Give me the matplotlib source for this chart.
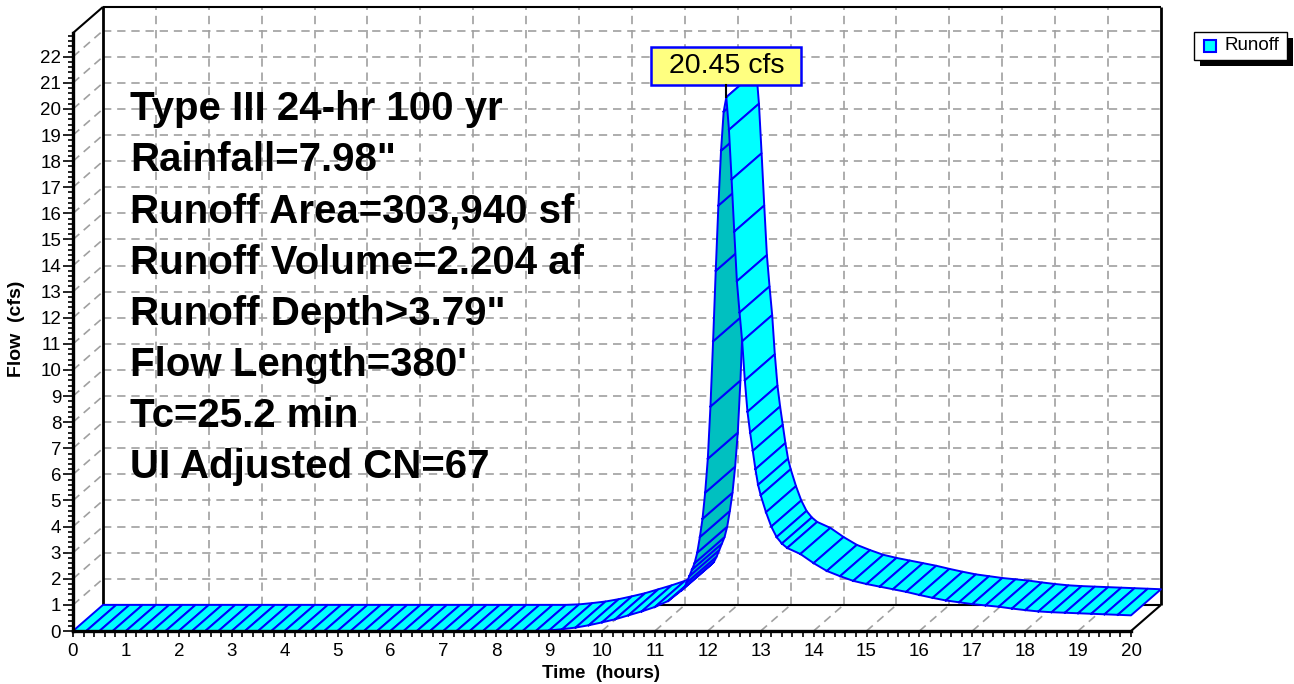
import numpy as np
import matplotlib
matplotlib.use('Agg')
import matplotlib.pyplot as plt
from matplotlib.patches import Polygon, Rectangle
from matplotlib.transforms import IdentityTransform

plt.rcParams['font.family'] = ['Liberation Sans', 'DejaVu Sans']

# Hydrograph (time in hours, flow in cfs)
time_hr = [0.0, 0.25, 0.5, 0.75, 1.0, 1.25, 1.5, 1.75, 2.0, 2.25, 2.5, 2.75,
           3.0, 3.25, 3.5, 3.75, 4.0, 4.25, 4.5, 4.75, 5.0, 5.25, 5.5, 5.75,
           6.0, 6.25, 6.5, 6.75, 7.0, 7.25, 7.5, 7.75, 8.0, 8.25, 8.5, 8.75,
           9.0, 9.25, 9.5, 9.75, 10.0, 10.25, 10.5, 10.75, 11.0, 11.25, 11.5,
           11.55, 11.6, 11.65, 11.7, 11.75, 11.8, 11.85, 11.9, 11.95, 12.0,
           12.05, 12.1, 12.15, 12.2, 12.25, 12.3, 12.35, 12.4, 12.45, 12.5,
           12.55, 12.6, 12.65, 12.7, 12.75, 12.8, 12.85, 12.9, 12.95, 13.0,
           13.1, 13.2, 13.3, 13.4, 13.5, 13.75, 14.0, 14.25, 14.5, 14.75,
           15.0, 15.25, 15.5, 15.75, 16.0, 16.25, 16.5, 16.75, 17.0, 17.25,
           17.5, 17.75, 18.0, 18.25, 18.5, 18.75, 19.0, 19.25, 19.5, 19.75, 20.0]
flow_cfs = [0.0, 0.0, 0.0, 0.0, 0.0, 0.0, 0.0, 0.0, 0.0, 0.0, 0.0, 0.0,
            0.0, 0.0, 0.0, 0.0, 0.0, 0.0, 0.0, 0.0, 0.0, 0.0, 0.0, 0.0,
            0.0, 0.0, 0.0, 0.0, 0.0, 0.0, 0.0, 0.0, 0.0, 0.0, 0.0, 0.0,
            0.02, 0.07, 0.13, 0.22, 0.33, 0.45, 0.6, 0.75, 0.92, 1.15, 1.55,
            1.65, 1.85, 2.1, 2.35, 2.6, 3.0, 3.6, 4.3, 5.3, 6.6,
            8.6, 11.1, 13.8, 16.3, 18.4, 19.9, 20.45, 19.2, 17.3, 15.3,
            13.4, 12.2, 11.1, 9.6, 8.4, 7.6, 6.9, 6.2, 5.6, 5.2,
            4.55, 4.0, 3.6, 3.35, 3.18, 2.95, 2.6, 2.3, 2.1, 1.92,
            1.8, 1.7, 1.6, 1.5, 1.38, 1.27, 1.17, 1.1, 1.03, 0.98,
            0.93, 0.86, 0.8, 0.75, 0.72, 0.7, 0.68, 0.66, 0.64, 0.62, 0.6]

info_lines = ['Type III 24-hr 100 yr', 'Rainfall=7.98"', 'Runoff Area=303,940 sf',
              'Runoff Volume=2.204 af', 'Runoff Depth>3.79"', "Flow Length=380'",
              'Tc=25.2 min', 'UI Adjusted CN=67']
peak_label = '20.45 cfs'

# depth offset of the pseudo-3D box (in data units)
DX = 0.567
DZ = 1.0
YTOP = 22.91

fig = plt.figure(figsize=(12.94, 6.84), dpi=100)
ax = fig.add_axes([73 / 1294, 53 / 684, 1058 / 1294, 598 / 684])
ax.set_xlim(0, 20)
ax.set_ylim(0, YTOP)
ax.patch.set_alpha(0)

grid_kw = dict(color='#a0a0a0', lw=1.2, linestyle=(0, (5, 3.5)), clip_on=False, zorder=1)
# back wall grid
for k in range(1, 23):
    ax.plot([DX, 20 + DX], [k + DZ, k + DZ], **grid_kw)
    ax.plot([0, DX], [k, k + DZ], **grid_kw)
for k in range(1, 20):
    ax.plot([k + DX, k + DX], [DZ, YTOP + DZ], **grid_kw)
    ax.plot([k, k + DX], [0, DZ], **grid_kw)

# box outline
box_kw = dict(color='black', clip_on=False, zorder=2, solid_capstyle='butt')
ax.plot([DX, DX], [DZ, YTOP + DZ], lw=2, **box_kw)
ax.plot([20 + DX, 20 + DX], [DZ, YTOP + DZ], lw=2, **box_kw)
ax.plot([DX, 20 + DX], [YTOP + DZ, YTOP + DZ], lw=1.5, **box_kw)
ax.plot([DX, 20 + DX], [DZ, DZ], lw=1.5, **box_kw)
ax.plot([0, DX], [YTOP, YTOP + DZ], lw=1.5, **box_kw)
ax.plot([20, 20 + DX], [0, DZ], lw=1.5, **box_kw)

# ribbon, drawn left to right (right-hand faces are nearer)
t = np.array(time_hr)
q = np.array(flow_cfs)
z = 3.0
for i in range(len(t) - 1):
    slope = (q[i + 1] - q[i]) / (t[i + 1] - t[i])
    face = '#00c0c0' if slope > DZ / DX else '#00ffff'
    pts = [(t[i], q[i]), (t[i + 1], q[i + 1]),
           (t[i + 1] + DX, q[i + 1] + DZ), (t[i] + DX, q[i] + DZ)]
    ax.add_patch(Polygon(pts, closed=True, fc=face, ec='none', clip_on=False, zorder=z))
    xs = [t[i], t[i + 1], t[i + 1] + DX, t[i] + DX, t[i]]
    ys = [q[i], q[i + 1], q[i + 1] + DZ, q[i] + DZ, q[i]]
    ax.plot(xs, ys, color='#0000ff', lw=1.4, clip_on=False, zorder=z + 0.0005,
            solid_joinstyle='round')
    z += 0.001

# axes
for s in ['top', 'right']:
    ax.spines[s].set_visible(False)
for s in ['left', 'bottom']:
    ax.spines[s].set_linewidth(2.4)
    ax.spines[s].set_zorder(20)
ax.xaxis.set_zorder(20)
ax.yaxis.set_zorder(20)
ax.set_xticks(range(0, 21))
ax.set_yticks(range(0, 23))
ax.set_xticks(np.arange(0, 20.01, 0.2), minor=True)
ax.set_yticks(np.arange(0, 22.81, 0.2), minor=True)
ax.tick_params(axis='both', which='both', direction='out', width=1.2, labelsize=13.5)
ax.tick_params(axis='x', which='major', length=4.5, pad=4)
ax.tick_params(axis='x', which='minor', length=4.5)
ax.tick_params(axis='y', which='major', length=7, pad=1.5)
ax.tick_params(axis='y', which='minor', length=3.5)

# info text block
for j, line in enumerate(info_lines):
    ax.text(1.08, 19.57 - j * 1.958, line, fontsize=29, fontweight='bold',
            ha='left', va='baseline', zorder=25)

# peak label
ipk = int(np.argmax(q))
fig.canvas.draw()
px, py = ax.transData.transform((t[ipk], q[ipk]))
fig.add_artist(Rectangle((px - 75, py + 12), 150, 38, transform=IdentityTransform(),
                         fc='#ffff80', ec='#0000ff', lw=1.8, zorder=30))
fig.add_artist(plt.Line2D([px, px], [py, py + 12], transform=IdentityTransform(),
                          color='black', lw=1.5, zorder=30))
fig.text(px / 1294, (py + 31) / 684, peak_label, fontsize=20.5, ha='center',
         va='center', zorder=31)

# legend with shadow
W, H = 1294, 684
def fx(v):
    return v / W
def fy(v):
    return 1 - v / H
fig.add_artist(Rectangle((fx(1200), fy(66)), fx(93), 28 / H, transform=fig.transFigure,
                         fc='black', ec='none'))
fig.add_artist(Rectangle((fx(1194), fy(60)), fx(93), 28 / H, transform=fig.transFigure,
                         fc='white', ec='black', lw=1))
fig.add_artist(Rectangle((fx(1204), fy(52)), fx(12), 12 / H, transform=fig.transFigure,
                         fc='#00ffff', ec='#0000ff', lw=1.5))
fig.text(fx(1224), fy(46), 'Runoff', fontsize=13.5, ha='left', va='center')

fig.text(fx(17), fy(329), 'Flow  (cfs)', fontsize=14, fontweight='bold',
         rotation=90, ha='center', va='center')
fig.text(fx(601), fy(674), 'Time  (hours)', fontsize=13.5, fontweight='bold',
         ha='center', va='center')

fig.savefig('out.png', dpi=100)
